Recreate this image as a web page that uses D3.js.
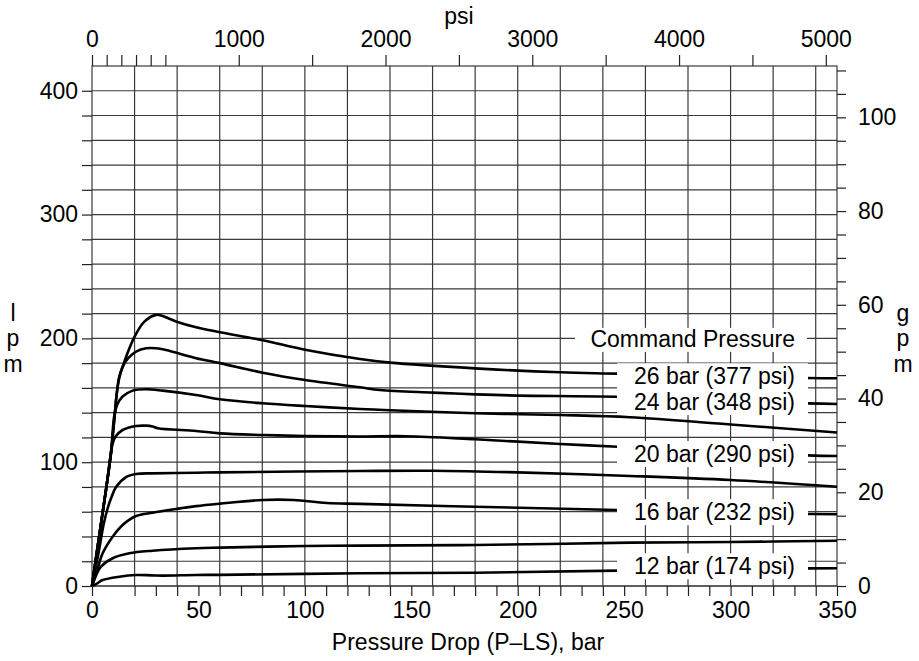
<!DOCTYPE html>
<html><head><meta charset="utf-8">
<script src="https://cdn.jsdelivr.net/npm/d3@7/dist/d3.min.js"></script>
<style>body{margin:0;background:#fff}svg{display:block}</style>
</head><body>
<svg id="chart" width="919" height="661"></svg>
<script>
// ---- data (bar, lpm) ----
const curve26 = [[0,0],[2,24],[4.2,50],[6.6,78],[8.9,107],[10.5,135],[11.6,155],[12.8,169],[14.4,177],[16,185],[19.9,201],[24.6,213.5],[30.2,219],[33.2,218],[39.8,213.5],[48.9,209],[60.1,205],[80.2,198.5],[100.1,190.8],[125.9,183.3],[140,180.4],[180,175.8],[220,172.6],[246.8,171.5],[336,168],[350,167.8]];
const curve24 = [[0,0],[2,24],[4.2,50],[6.6,78],[8.9,107],[10.5,135],[11.6,155],[12.8,168],[14.4,177],[17,184],[20.7,189.3],[25.4,192],[30,192],[34.8,190.6],[48.9,184],[60.1,180],[80.2,172.3],[100.1,166.4],[125.9,160.5],[135.3,158.3],[160,156.2],[180,154.8],[200,153.8],[246.8,152.9],[336,147.5],[350,147]];
const curve22 = [[0,0],[2,24],[4.2,50],[6.6,78],[8.9,107],[10.5,138],[12,147],[14.4,153],[19.1,157.8],[25.4,158.9],[33.2,157.8],[48.9,154.3],[60.1,150.8],[80.2,147.6],[100.1,145.4],[125.9,143],[140,142],[180,139.5],[220,138.1],[252.7,136.3],[300,130.5],[350,124]];
const curve20 = [[0,0],[2,24],[4.2,50],[6.6,78],[8.6,104],[9.7,115],[11,120.5],[14.4,126],[20.7,129.2],[25.4,129.5],[28.5,128.8],[30.9,127.4],[48.9,125.2],[60.1,123.3],[80.2,122],[100.1,121.2],[125,120.8],[147.8,121],[180,118.5],[220,114.7],[246.8,112.5],[336,105.5],[350,105]];
const curve18 = [[0,0],[3,26],[5.5,50],[7.4,63],[9,71],[11.3,80],[16,88],[20.7,90.5],[28.5,91],[48.9,91.5],[60.1,91.8],[125.9,92.9],[160,93.1],[200,91.8],[252.7,88.9],[300,85.6],[350,80.2]];
const curve16 = [[0,0],[2.5,13],[5,26.4],[9.7,39.8],[14.4,49.3],[20.7,56.5],[28.5,59.2],[39.5,62.2],[48.9,64.5],[60.1,66.5],[80.2,69.5],[94.6,69.5],[110.3,67],[125.9,66.3],[180,64],[246.8,61.4],[336,58.2],[350,58]];
const curve14 = [[0,0],[2,9],[4.2,15.6],[9.7,22.4],[17.5,26.4],[28.5,28.5],[48.9,30.5],[60.1,31],[100.1,32.3],[125.9,32.6],[180,33.1],[252.7,35],[300,35.5],[350,36.6]];
const curve12 = [[0,0],[2.5,2.2],[5,4.8],[12.8,7.5],[20.7,8.9],[28,8.6],[33.2,8.4],[48.9,8.9],[60.1,9],[125.9,10.3],[180,10.7],[246.8,12.4],[336,14.2],[350,14.3]];

const allCurves = [curve26, curve24, curve22, curve20, curve18, curve16, curve14, curve12];
const labelTexts = ["26 bar (377 psi)", "24 bar (348 psi)", "20 bar (290 psi)", "16 bar (232 psi)", "12 bar (174 psi)"];
const labelledCurves = [curve26, curve24, curve20, curve16, curve12];
const legendTitle = "Command Pressure";
const legendTitleLpm = 200;

const barTicks = [0,20,30,40,50,60,70,80,90,100,110,120,130,140,150,160,170,180,190,200,210,220,230,240,250,260,270,280,290,300,310,320,330,340,350];
const barLabels = [0,50,100,150,200,250,300,350];
const barGrid = [20,40,60,80,100,120,140,160,180,200,220,240,260,280,300,320,340];
const lpmTicks = [0,20,40,60,80,100,120,140,160,180,200,220,240,260,280,300,320,340,360,380,400];
const lpmLabels = [0,100,200,300,400];
const psiTicks = [0,100,200,300,400,500,1000,1500,2000,2500,3000,3500,4000,4500,5000];
const psiLabels = [0,1000,2000,3000,4000,5000];
const gpmTicks = [0,5,10,15,20,25,30,35,40,45,50,55,60,65,70,75,80,85,90,95,100,105,110];
const gpmLabels = [0,20,40,60,80,100];

const BAR_TO_PSI = 14.5038, GPM_TO_LPM = 3.78541;
const FONT = "'Liberation Sans', Arial, Helvetica, sans-serif";
const FS = 23;

// ---- scales ----
const X0 = 92, X1 = 837, Y0 = 586, Y1 = 66;
const x = d3.scaleLinear().domain([0, 350]).range([X0, X1]);
const y = d3.scaleLinear().domain([0, 420]).range([Y0, Y1]);
const xPsi = d3.scaleLinear().domain([0, 350 * BAR_TO_PSI]).range([X0, X1]);
const yGpm = d3.scaleLinear().domain([0, 420 / GPM_TO_LPM]).range([Y0, Y1]);

const svg = d3.select("#chart");
svg.append("rect").attr("width", 919).attr("height", 661).attr("fill", "#fff");

// ---- grid ----
const grid = svg.append("g").attr("stroke", "#3a3a3a").attr("stroke-width", 1.2).attr("fill", "none");
grid.selectAll(".v").data(barGrid).join("line")
  .attr("x1", d => x(d)).attr("x2", d => x(d)).attr("y1", Y1).attr("y2", Y0);
grid.selectAll(".h").data(lpmTicks).join("line")
  .attr("x1", X0).attr("x2", X1).attr("y1", d => y(d)).attr("y2", d => y(d));
grid.append("rect").attr("x", X0).attr("y", Y1).attr("width", X1 - X0).attr("height", Y0 - Y1);

// ---- curves ----
const line = d3.line().x(d => x(d[0])).y(d => y(d[1])).curve(d3.curveCatmullRom.alpha(0.5));
svg.append("g").selectAll("path").data(allCurves).join("path")
  .attr("d", line).attr("fill", "none").attr("stroke", "#000")
  .attr("stroke-width", 2.6).attr("stroke-linejoin", "round");

// ---- legend labels with white boxes ----
const textEndX = 795;
const legend = svg.append("g").attr("font-family", FONT).attr("font-size", FS).attr("fill", "#000");
const tY = y(legendTitleLpm) + 0.5;
legend.append("rect").attr("x", 575).attr("y", tY - 11).attr("width", 232).attr("height", 24).attr("fill", "#fff");
legend.append("text").attr("x", textEndX).attr("y", tY).attr("dy", "0.36em")
  .attr("text-anchor", "end").text(legendTitle);
labelTexts.forEach((t, i) => {
  const c = labelledCurves[i];
  const cy = y(c[c.length - 1][1]) - 2.5;
  legend.append("rect").attr("x", 617).attr("y", cy - 12.5).attr("width", 191).attr("height", 26).attr("fill", "#fff");
  legend.append("text").attr("x", textEndX).attr("y", cy).attr("dy", "0.36em")
    .attr("text-anchor", "end").text(t);
});

// ---- axes ----
function styleAxis(g) {
  g.select(".domain").remove();
  g.selectAll(".tick line").attr("stroke", "#222").attr("stroke-width", 1.2);
  g.selectAll(".tick text").attr("font-family", FONT).attr("font-size", FS).attr("fill", "#000");
}
svg.append("g").attr("transform", `translate(0,${Y0})`)
  .call(d3.axisBottom(x).tickValues(barTicks).tickSize(10).tickSizeOuter(0)
    .tickFormat(d => barLabels.includes(d) ? d : "").tickPadding(6))
  .call(styleAxis);
svg.append("g").attr("transform", `translate(${X0},0)`)
  .call(d3.axisLeft(y).tickValues(lpmTicks).tickSize(10).tickSizeOuter(0)
    .tickFormat(d => lpmLabels.includes(d) ? d : "").tickPadding(4))
  .call(styleAxis);
svg.append("g").attr("transform", `translate(${X1},0)`)
  .call(d3.axisRight(yGpm).tickValues(gpmTicks).tickSize(9).tickSizeOuter(0)
    .tickFormat(d => gpmLabels.includes(d) ? d : "").tickPadding(12))
  .call(styleAxis);
svg.append("g").attr("transform", `translate(0,${Y1})`)
  .call(d3.axisTop(xPsi).tickValues(psiTicks).tickSize(11).tickSizeOuter(0)
    .tickFormat(d => psiLabels.includes(d) ? d : "").tickPadding(8))
  .call(styleAxis);

// ---- titles ----
const titles = svg.append("g").attr("font-family", FONT).attr("font-size", FS).attr("fill", "#000");
titles.append("text").attr("x", 468).attr("y", 650).attr("text-anchor", "middle").text("Pressure Drop (P\u2013LS), bar");
titles.append("text").attr("x", 459).attr("y", 24).attr("text-anchor", "middle").text("psi");
const side = [["l", 321], ["p", 346], ["m", 372]];
side.forEach(([t, yy]) => titles.append("text").attr("x", 13).attr("y", yy).attr("text-anchor", "middle").text(t));
const side2 = [["g", 321], ["p", 346], ["m", 372]];
side2.forEach(([t, yy]) => titles.append("text").attr("x", 903).attr("y", yy).attr("text-anchor", "middle").text(t));
</script>
</body></html>
